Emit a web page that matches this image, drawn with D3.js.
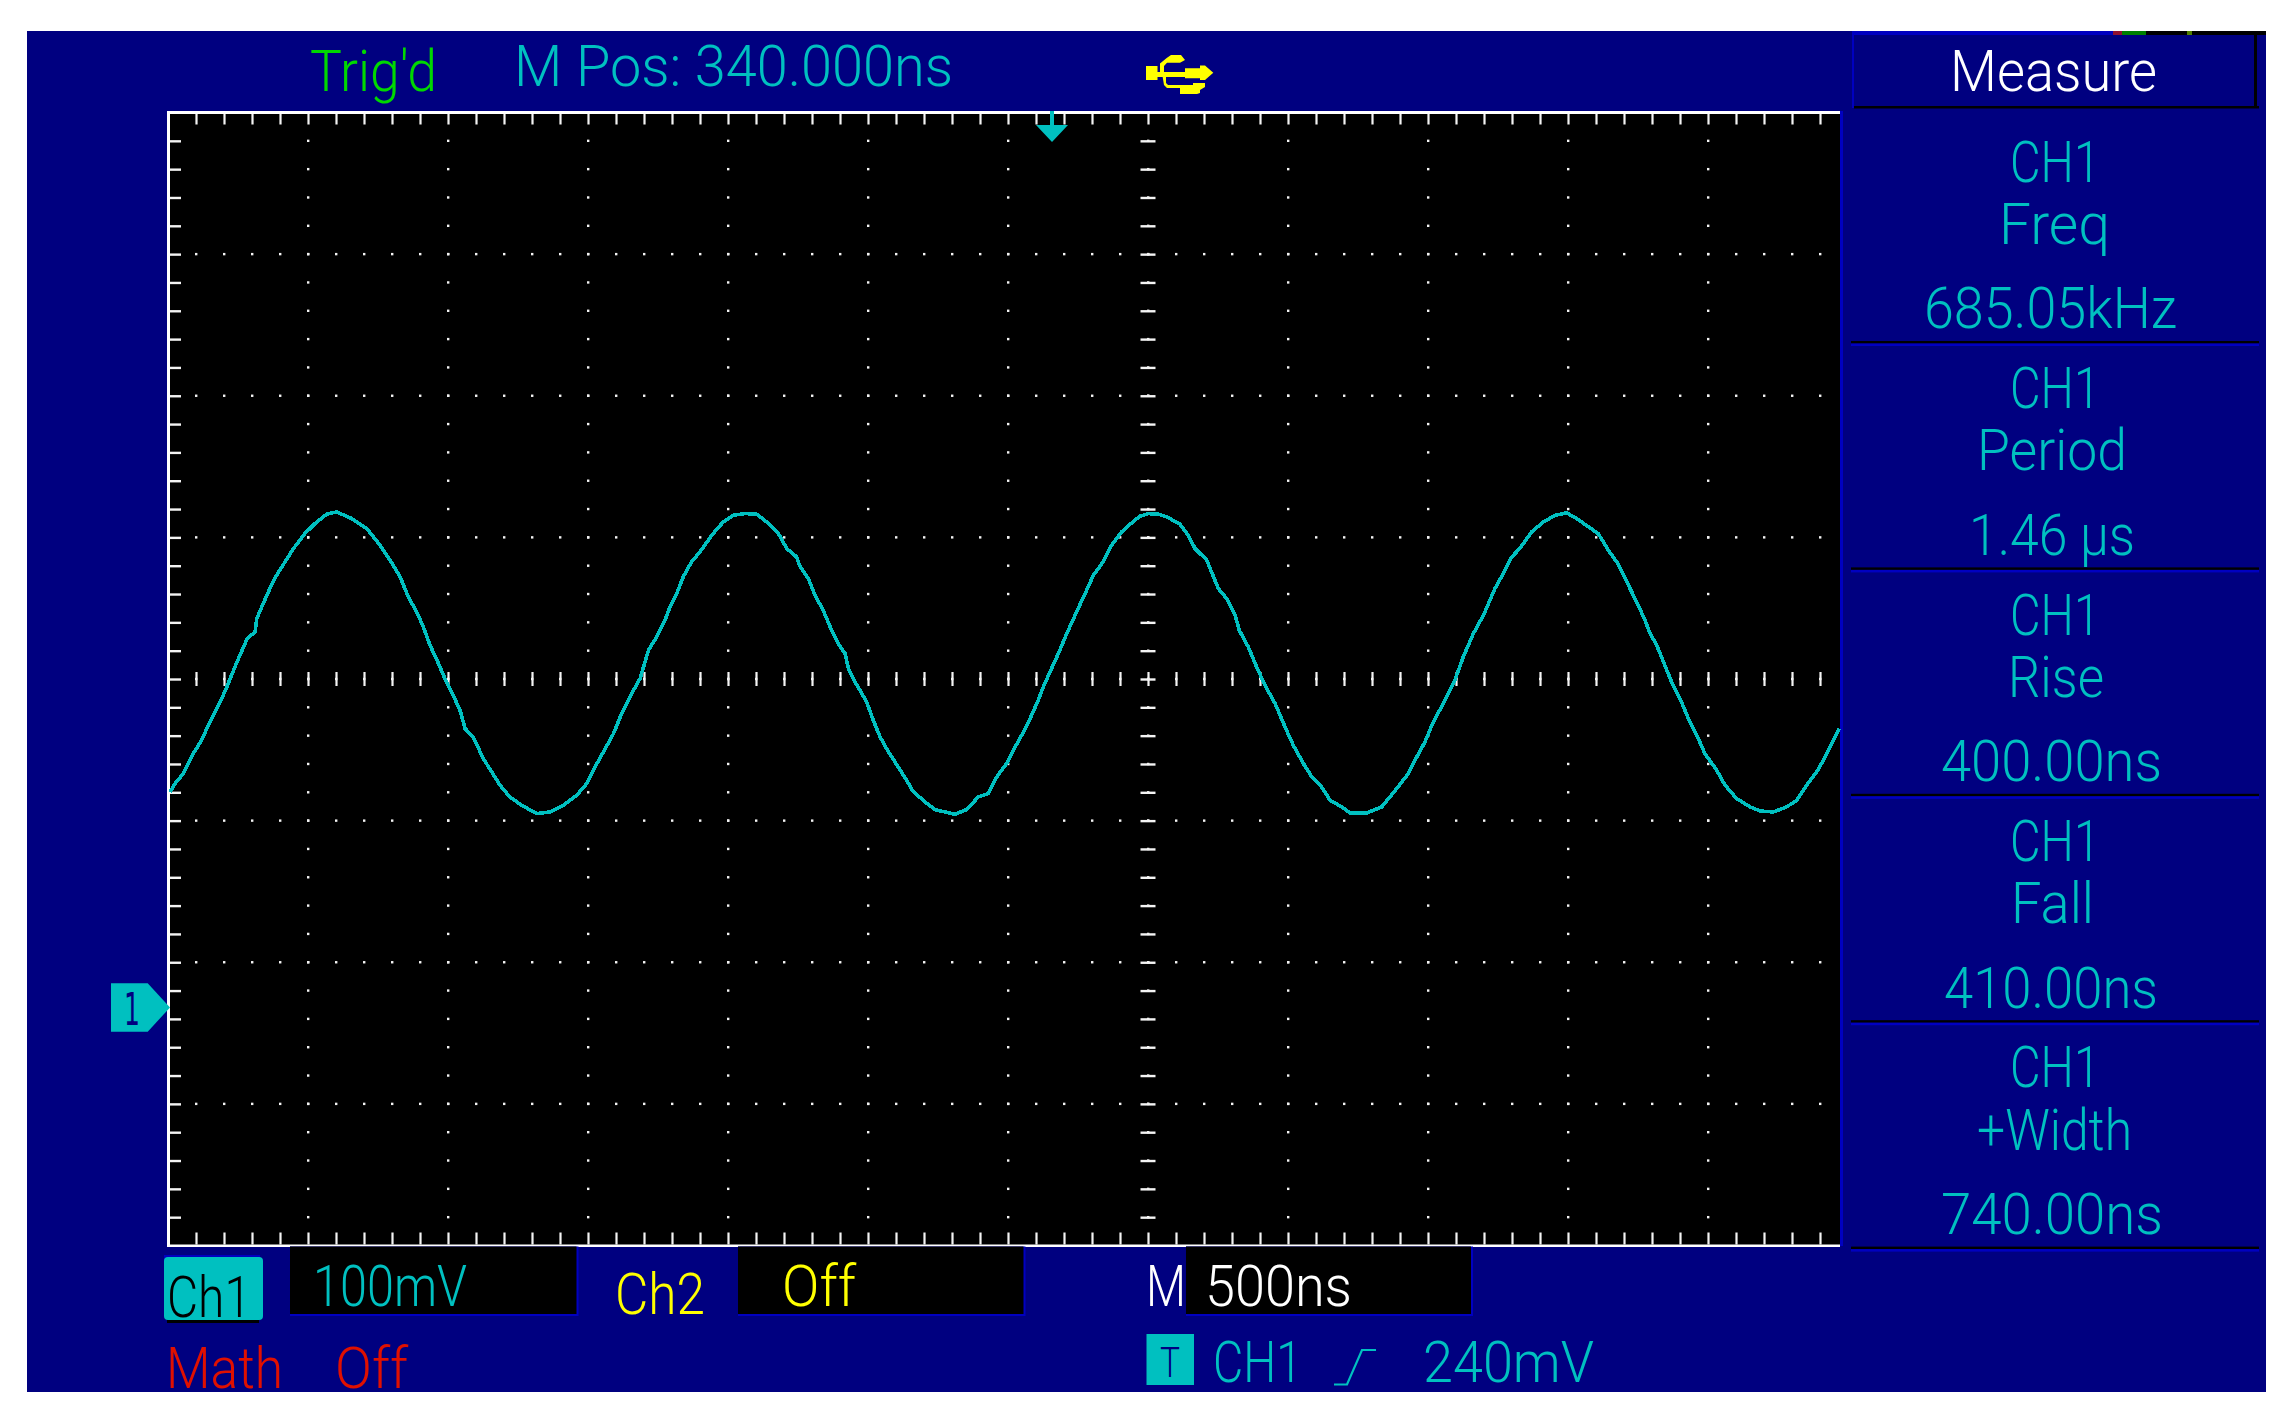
<!DOCTYPE html>
<html><head><meta charset="utf-8">
<script src="https://cdn.jsdelivr.net/npm/d3@7/dist/d3.min.js"></script>
<style>html,body{margin:0;padding:0;background:#fff}svg{display:block}
text{font-family:Roboto,"Liberation Sans",sans-serif;font-weight:300;font-size:58px}</style>
</head><body><svg id="c" width="2294" height="1419"></svg>
<script>
// ---- data (time from left edge of screen in ns, level in mV above CH1 ground) ----
const timeNs=[7,25,55,73,90,120,144,168,192,210,239,257,283,311,317,340,364,388,418,448,489,525,567,602,656,710,757,793,829,858,888,912,936,966,989,1013,1043,1061,1090,1126,1156,1186,1221,1263,1317,1364,1412,1460,1495,1525,1555,1591,1620,1656,1686,1716,1745,1775,1793,1817,1840,1870,1900,1942,1983,2019,2061,2102,2138,2180,2210,2245,2257,2287,2311,2340,2370,2394,2418,2430,2454,2495,2519,2543,2573,2608,2638,2662,2704,2739,2775,2811,2852,2894,2930,2960,2995,3019,3049,3079,3108,3126,3150,3180,3210,3245,3281,3305,3340,3370,3406,3436,3471,3501,3537,3567,3614,3644,3668,3710,3727,3751,3781,3811,3826,3858,3888,3918,3954,3992,4019,4055,4085,4120,4150,4192,4221,4281,4335,4388,4430,4460,4489,4519,4561,4596,4626,4662,4698,4739,4769,4799,4828,4870,4912,4954,4995,5031,5073,5108,5144,5174,5204,5251,5275,5293,5317,5341,5370,5400,5430,5460,5489,5531,5561,5602,5650,5686,5733,5781,5817,5852,5888,5912,5942,5969];
const levelMv=[152.8,158.6,165.7,172.8,179.8,189.3,199.8,209.3,218.7,226.9,241,249.3,261,265.8,275.2,285.8,296.4,305.8,315.2,324.6,335.2,342.3,348.9,350.5,345.8,338.7,327,316.4,304.6,290.5,279.9,269.3,256.3,243.4,232.8,223.4,210.4,197.5,191.6,176.3,166.9,157.5,149.2,143.3,137.5,138.6,143.3,150.4,158.6,170.4,181,193.9,208,222.2,232.8,252.8,262.2,274,283.4,292.8,304.6,315.2,322.3,334,343.4,348.1,349.3,348.9,343.4,335.2,324.6,318.7,312.1,303.4,291.6,281,266.9,257.5,250.5,239.9,230.4,216.3,203.4,191.6,181,170.4,161,152.8,145.7,140.3,138.6,137,140.3,149.2,151.6,163.4,172.8,182.2,192.8,204.6,217.5,226.9,237.5,250.5,264.6,279.9,295.2,305.8,315.2,327,336.4,341.8,347.4,349.3,348.9,347,341.8,334,324.6,316.4,308.1,296.4,289.3,277.5,266.9,255.2,241,228,215.1,197.5,185.7,172.8,163.4,156.3,146.9,142.2,137.9,137.9,142.2,155.1,165.7,177.5,188,202.2,217.5,231.6,248.1,264.6,277.5,296.4,306.9,318.7,324.6,336.4,343.4,348.1,349.8,345.8,339.9,335.2,323.4,315.2,303.4,284.6,274,264.6,256.3,244.6,230.4,218.7,204.6,192.8,179.8,168.1,157.5,148.1,142.2,139.3,138.6,142.2,146.9,157.5,166.9,175.1,186.9,197.5];
const measureChannels=["CH1","CH1","CH1","CH1","CH1"];
const measureNames=["Freq","Period","Rise","Fall","+Width"];
const measureValues=["685.05kHz","1.46 µs","400.00ns","410.00ns","740.00ns"];
const topTexts=["Trig'd","M Pos: 340.000ns"];
const msPerDiv=500, mvPerDiv=100, xDivs=12, yDivs=8, minorPerDiv=5;
const groundFromTopDivs=6.325;

// ---- colours ----
const NAVY="#000080",TEAL="#00c0c0",BLUE="#0000c0",GREEN="#00d800",RED="#e01000",YEL="#ffff00",WHITE="#ffffff",TICK="#f4f4f4";

// ---- scales ----
const plotL=168, plotT=112.5, divW=140, divH=141.6, plotR=1840, plotB=1245.5;
const x=d3.scaleLinear().domain([0,xDivs*msPerDiv]).range([plotL,plotL+xDivs*divW]);
const y=d3.scaleLinear().domain([mvPerDiv*(groundFromTopDivs-yDivs),mvPerDiv*groundFromTopDivs]).range([plotB,plotT]);
const visibleT=t=>x(t)<plotR-1;
const minorT=d3.range(1,xDivs*minorPerDiv).map(i=>i*msPerDiv/minorPerDiv).filter(visibleT);
const majorT=d3.range(1,xDivs).map(i=>i*msPerDiv).filter(visibleT);
const minorV=d3.range(1,yDivs*minorPerDiv).map(i=>y.domain()[0]+i*mvPerDiv/minorPerDiv);
const majorV=d3.range(1,yDivs).map(i=>y.domain()[0]+i*mvPerDiv);
const centreV=y.domain()[0]+mvPerDiv*yDivs/2, centreT=7*msPerDiv;

const svg=d3.select("#c");
const rect=(a,b,c,d,f,g=svg)=>g.append("rect").attr("x",a).attr("y",b).attr("width",c-a).attr("height",d-b).attr("fill",f);
function label(t,x0,x1,base,col,size){
  const e=svg.append("text").attr("x",x0).attr("y",base).attr("fill",col)
    .attr("textLength",x1-x0).attr("lengthAdjust","spacingAndGlyphs").text(t);
  if(size)e.style("font-size",size+"px");
  return e;
}
// panel
rect(27,31,2266,1392,NAVY);
// header strip
rect(1852,31,2113,35,BLUE);rect(2113,31,2122,35,"#901030");rect(2122,31,2146,35,"#008000");rect(2146,31,2266,35,"#000");rect(2187,31,2192,35,"#508000");
rect(1852,31,1854,108,BLUE);rect(2254,35,2257,106,"#000");rect(1854,106,2259,108.5,"#000");
// plot
rect(plotL,plotT,plotR,plotB,"#000");
rect(plotR,111,plotR+3,1246,BLUE);
// dotted grid
const g=svg.append("g").attr("fill",TICK);
majorV.forEach(v=>minorT.forEach(t=>rect(x(t)-1,y(v)-1.2,x(t)+1.4,y(v)+1.2,TICK,g)));
majorT.forEach(t=>minorV.forEach(v=>rect(x(t)-1,y(v)-1.2,x(t)+1.4,y(v)+1.2,TICK,g)));
// axes as tick rows
function ticks(axis,tx,ty,w){
  const a=svg.append("g").attr("transform",`translate(${tx},${ty})`).call(axis);
  a.select(".domain").remove();a.selectAll("text").remove();
  a.selectAll("line").attr("stroke",TICK).attr("stroke-width",w);
}
ticks(d3.axisTop(x).tickValues(minorT).tickSize(-11),0,113.5,2.2);
ticks(d3.axisBottom(x).tickValues(minorT).tickSize(-12),0,1244.5,2.2);
ticks(d3.axisLeft(y).tickValues(minorV).tickSize(-11),170,0,2.4);
ticks(d3.axisBottom(x).tickValues(minorT).tickSize(14),0,y(centreV)-7,2.2);
ticks(d3.axisLeft(y).tickValues(minorV).tickSize(-15),x(centreT)-7.5,0,2.4);
// frame
rect(167,111,plotR,114,WHITE);rect(167,111,170,1247,WHITE);rect(167,1244.5,plotR,1247,WHITE);
// trace
const line=d3.line().x(d=>x(d[0])).y(d=>y(d[1]));
svg.append("path").datum(d3.zip(timeNs,levelMv)).attr("d",line).attr("fill","none")
  .attr("stroke",TEAL).attr("stroke-width",3.6).attr("shape-rendering","crispEdges");
// trigger position arrow
svg.append("path").attr("d","M1050 111H1054V125H1068L1052 142L1036 125H1050Z").attr("fill",TEAL);
// ground marker
svg.append("path").attr("d","M111 983.3H147.7L170 1007.5L147.7 1031.7H111Z").attr("fill",TEAL);
label("1",124,140,1025,NAVY,44).style("font-family","'DejaVu Sans'").style("font-weight",400);
// usb icon
svg.append("path").attr("fill",YEL).attr("d",
 "M1146 66H1157.5V72H1185V68.3H1200V65.5H1205L1213.3 72.7L1205 80H1200V78.3H1185V77H1157.5V80H1146Z"+
 "M1160 72V63.5L1166.7 58L1171 55H1181L1185 60L1180 62.7H1167L1164 66V72Z"+
 "M1162.5 76H1166V83L1168 85H1193V83H1205V87L1200 90V93L1197 94H1180V88H1167L1164 85Z");
// top texts
label(topTexts[0],310,437,90.7,GREEN);
label(topTexts[1],514,953,85.7,TEAL);
// measure column
label("Measure",1950,2157,90.7,WHITE);
const step=226.4;
const nameX=[[1999,2110],[1977,2127],[2008,2104],[2011,2094],[1977,2132]];
const valX=[[1924,2177],[1969,2135],[1941,2162],[1944,2158],[1941,2163]];
measureNames.forEach((n,i)=>{
  label(measureChannels[i],2010,2100,181.7+step*i,TEAL);
  label(n,nameX[i][0],nameX[i][1],244+step*i,TEAL);
  label(measureValues[i],valX[i][0],valX[i][1],328.3+step*i,TEAL);
  rect(1851,341+step*i,2259,343.5+step*i,"#000");
  rect(1851,343.5+step*i,2259,346+step*i,BLUE);
});
// channel row
rect(167,1260,259,1323,"#000");rect(164,1255,260,1300,BLUE);
svg.append("rect").attr("x",164).attr("y",1257).attr("width",99).attr("height",63).attr("rx",4).attr("fill",TEAL);
label("Ch1",167,251,1316.7,"#000");
[[290,576.5],[738,1023.5],[1186,1471]].forEach(b=>{
  rect(b[0],1246.5,b[1]+2,1316,BLUE);rect(b[0],1246.5,b[1],1314,"#000");
});
label("100mV",313,467,1305.7,TEAL);
label("Ch2",615,705,1314,YEL);
label("Off",782,856,1306,YEL);
label("M",1146,1186,1305.7,WHITE);
label("500ns",1205,1352,1305.7,WHITE);
label("Math",166,283,1387.7,RED);
label("Off",335,408,1387.7,RED);
rect(1146.5,1334,1194,1385,TEAL);
label("T",1160,1180,1376.7,NAVY,42);
label("CH1",1213,1302,1382,TEAL);
svg.append("path").attr("d","M1334 1384.5H1347L1362 1350H1376").attr("fill","none").attr("stroke",TEAL).attr("stroke-width",2.2);
label("240mV",1423,1594,1382,TEAL);
</script></body></html>
